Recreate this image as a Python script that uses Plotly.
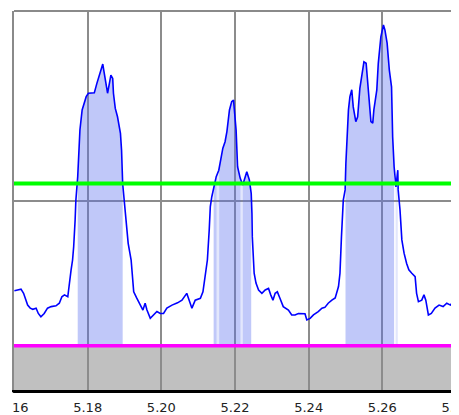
import numpy as np
import plotly.graph_objects as go

# Signal trace (x in data units, y in relative units 0-100)
sig_x = [5.1601, 5.1619, 5.1626, 5.1631, 5.1637, 5.1644, 5.1651, 5.1660, 5.1666, 5.1673,
         5.1682, 5.1691, 5.1701, 5.1714, 5.1723, 5.1730, 5.1737, 5.1746, 5.1750, 5.1755,
         5.1759, 5.1762, 5.1766, 5.1768, 5.1773, 5.1775, 5.1779, 5.1785, 5.1791, 5.1796,
         5.1802, 5.1818, 5.1825, 5.1832, 5.1836, 5.1841, 5.1845, 5.1850, 5.1854, 5.1859,
         5.1863, 5.1868, 5.1870, 5.1875, 5.1881, 5.1889, 5.1892, 5.1895, 5.1899, 5.1904,
         5.1910, 5.1918, 5.1922, 5.1925, 5.1933, 5.1943, 5.1950, 5.1956, 5.1961, 5.1970,
         5.1979, 5.1988, 5.1997, 5.2006, 5.2015, 5.2029, 5.2044, 5.2056, 5.2069, 5.2076,
         5.2083, 5.2092, 5.2106, 5.2113, 5.2119, 5.2125, 5.2130, 5.2133, 5.2137, 5.2142,
         5.2149, 5.2156, 5.2162, 5.2167, 5.2173, 5.2178, 5.2185, 5.2191, 5.2196, 5.2199,
         5.2203, 5.2207, 5.2214, 5.2221, 5.2228, 5.2232, 5.2239, 5.2244, 5.2246, 5.2247,
         5.2252, 5.2257, 5.2264, 5.2273, 5.2282, 5.2291, 5.2297, 5.2303, 5.2309, 5.2315,
         5.2322, 5.2331, 5.2345, 5.2354, 5.2363, 5.2372, 5.2390, 5.2395, 5.2404, 5.2413,
         5.2426, 5.2436, 5.2444, 5.2453, 5.2463, 5.2472, 5.2481, 5.2485, 5.2489, 5.2494,
         5.2499, 5.2501, 5.2508, 5.2512, 5.2517, 5.2521, 5.2528, 5.2533, 5.2539, 5.2546,
         5.2550, 5.2556, 5.2560, 5.2565, 5.2569, 5.2574, 5.2577, 5.2585, 5.2589, 5.2596,
         5.2603, 5.2607, 5.2613, 5.2619, 5.2625, 5.2628, 5.2632, 5.2637, 5.2642, 5.2643,
         5.2648, 5.2653, 5.2659, 5.2666, 5.2672, 5.2680, 5.2689, 5.2693, 5.2698, 5.2707,
         5.2713, 5.2718, 5.2725, 5.2733, 5.2743, 5.2754, 5.2765, 5.2775, 5.2785, 5.2792,
         5.2798]
sig_y = [26.2, 26.6, 25.5, 23.9, 22.4, 21.6, 21.3, 21.6, 20.2, 19.3,
         20.2, 21.6, 22.0, 22.2, 22.9, 24.6, 25.1, 24.6, 28.2, 31.7,
         34.3, 37.8, 44.9, 50.1, 56.3, 62.5, 68.6, 73.9, 76.1, 77.4,
         78.3, 78.4, 80.9, 83.1, 84.9, 86.0, 83.6, 80.9, 78.3, 80.9,
         83.1, 82.2, 78.3, 74.3, 72.1, 67.7, 63.3, 54.5, 50.1, 46.6,
         38.7, 34.3, 28.2, 25.9, 24.3, 22.4, 21.1, 22.9, 21.1, 18.9,
         19.8, 20.7, 20.2, 20.2, 21.6, 22.4, 23.0, 23.7, 25.5, 23.3,
         21.6, 23.7, 24.2, 25.9, 30.8, 34.3, 42.2, 48.4, 51.0, 53.6,
         56.3, 58.0, 61.6, 63.8, 65.5, 68.2, 73.9, 76.1, 76.5, 73.4,
         68.6, 58.9, 55.9, 54.1, 56.7, 57.6, 55.4, 51.9, 46.6, 40.4,
         30.8, 28.2, 26.4, 25.5, 26.4, 26.8, 25.1, 23.7, 25.5, 25.9,
         24.2, 22.0, 21.1, 19.8, 19.8, 20.2, 20.1, 18.5, 18.9, 19.8,
         20.7, 21.6, 21.8, 22.9, 23.7, 24.3, 27.3, 30.8, 40.4, 50.1,
         52.8, 59.8, 73.9, 77.4, 79.2, 74.7, 70.8, 72.1, 79.6, 83.6,
         86.6, 86.2, 80.9, 74.7, 70.8, 70.4, 73.9, 79.2, 86.2, 93.2,
         96.3, 95.0, 91.5, 84.4, 80.0, 66.8, 58.9, 53.6, 58.0, 52.8,
         47.5, 39.6, 36.1, 33.4, 31.7, 30.8, 29.9, 25.5, 23.3, 23.7,
         25.1, 23.7, 19.8, 20.2, 21.6, 22.4, 22.0, 22.9, 22.4, 23.3,
         22.9]

# Shaded (above-threshold) regions
shade_start = [5.1773, 5.2142, 5.2157, 5.2221, 5.2500]
shade_end = [5.1895, 5.2150, 5.2215, 5.2244, 5.2632]
# lighter partial regions
faint_start = [5.2150, 5.2215, 5.2636]
faint_end = [5.2157, 5.2221, 5.2642]

upper_level = 54.5   # green threshold
lower_level = 11.7   # magenta baseline

x_ticks = [5.16, 5.18, 5.20, 5.22, 5.24, 5.26, 5.28]

sx = np.array(sig_x)
sy = np.array(sig_y)

fig = go.Figure()


def add_region(a, b, color):
    inside = (sx > a) & (sx < b)
    xs = [a] + list(sx[inside]) + [b]
    ys = [float(np.interp(a, sx, sy))] + list(sy[inside]) + [float(np.interp(b, sx, sy))]
    px = xs + xs[::-1]
    py = ys + [lower_level] * len(xs)
    fig.add_trace(go.Scatter(x=px, y=py, mode="lines", fill="toself",
                             fillcolor=color, line=dict(width=0),
                             hoverinfo="skip", showlegend=False))


for a, b in zip(shade_start, shade_end):
    add_region(a, b, "rgba(90,110,240,0.38)")
for a, b in zip(faint_start, faint_end):
    add_region(a, b, "rgba(90,110,240,0.17)")

fig.add_trace(go.Scatter(x=sig_x, y=sig_y, mode="lines",
                         line=dict(color="#0000ff", width=1.6),
                         showlegend=False))

# gray base region
fig.add_shape(type="rect", xref="paper", x0=0, x1=1, yref="y", y0=0, y1=lower_level,
              fillcolor="#c0c0c0", line=dict(width=0), layer="below")
# threshold lines
fig.add_shape(type="line", xref="paper", x0=0, x1=1, yref="y", y0=upper_level, y1=upper_level,
              line=dict(color="#00ff00", width=4), layer="above")
fig.add_shape(type="line", xref="paper", x0=0, x1=1, yref="y", y0=lower_level, y1=lower_level,
              line=dict(color="#ff00ff", width=3.5), layer="above")
# top frame line
fig.add_shape(type="line", xref="paper", x0=0, x1=1, yref="paper", y0=1, y1=1,
              line=dict(color="#8a8a8a", width=2), layer="above")
# mask left part of the first tick label
fig.add_shape(type="rect", xref="paper", x0=-0.05, x1=-0.002, yref="paper", y0=-0.1, y1=-0.006,
              fillcolor="white", line=dict(width=0), layer="above")

# page body adds an 8px offset, so the figure is sized to fill the rest of the window
fig.update_layout(
    width=451, height=407,
    margin=dict(l=6, r=3, t=3, b=25),
    paper_bgcolor="white", plot_bgcolor="white",
    font=dict(family="DejaVu Sans", size=13, color="#222222"),
)
fig.update_xaxes(range=[5.16, 5.28], tickvals=x_ticks, tickformat=".2f",
                 showgrid=True, gridcolor="#8c8c8c", gridwidth=1.5,
                 showline=True, linecolor="black", linewidth=3,
                 ticks="outside", ticklen=3, tickcolor="rgba(0,0,0,0)",
                 ticklabeloverflow="allow",
                 zeroline=False, automargin=False)
fig.update_yaxes(range=[0, 100], tickvals=[50], showticklabels=False,
                 showgrid=True, gridcolor="#8c8c8c", gridwidth=1.5,
                 showline=True, linecolor="#8a8a8a", linewidth=2, mirror=True,
                 zeroline=False, automargin=False)

fig.write_html("out.html")
